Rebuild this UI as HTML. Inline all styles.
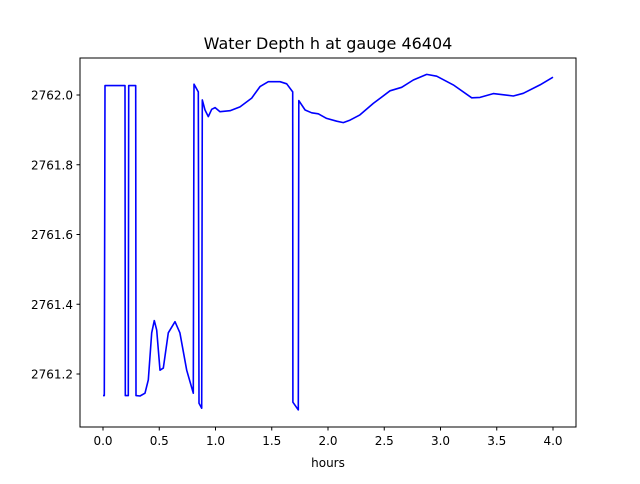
<!DOCTYPE html>
<html><head><meta charset="utf-8"><style>
body{margin:0;background:#fff;font-family:"DejaVu Sans","Liberation Sans",sans-serif;}
svg text{font-family:"DejaVu Sans","Liberation Sans",sans-serif;}
</style></head><body>
<svg id="chart" width="640" height="480" xmlns="http://www.w3.org/2000/svg">
<rect width="640" height="480" fill="#fff"/>
<text x="328" y="49" text-anchor="middle" font-size="16">Water Depth h at gauge 46404</text>
<g id="plot"></g>
<rect x="80" y="58" width="496" height="369" fill="none" stroke="#000" stroke-width="1"/>
<text x="328" y="467" text-anchor="middle" font-size="12">hours</text>
</svg>
<script>
const times=[0.0,0.012,0.018,0.196,0.198,0.225,0.228,0.291,0.293,0.329,0.373,0.403,0.433,0.456,0.477,0.507,0.536,0.580,0.640,0.684,0.744,0.803,0.809,0.847,0.853,0.877,0.883,0.907,0.936,0.966,0.996,1.040,1.129,1.218,1.322,1.396,1.469,1.573,1.633,1.686,1.688,1.736,1.740,1.796,1.855,1.914,1.988,2.077,2.136,2.196,2.284,2.403,2.551,2.655,2.758,2.877,2.966,3.114,3.277,3.351,3.469,3.647,3.736,3.884,4.0];
const depths=[2761.138,2761.138,2762.027,2762.027,2761.138,2761.138,2762.027,2762.027,2761.138,2761.137,2761.145,2761.183,2761.318,2761.353,2761.326,2761.211,2761.217,2761.318,2761.350,2761.318,2761.211,2761.145,2762.031,2762.009,2761.116,2761.102,2761.986,2761.957,2761.938,2761.959,2761.964,2761.952,2761.955,2761.966,2761.991,2762.024,2762.038,2762.038,2762.032,2762.009,2761.119,2761.097,2761.984,2761.957,2761.949,2761.946,2761.933,2761.925,2761.921,2761.928,2761.943,2761.976,2762.012,2762.022,2762.043,2762.059,2762.054,2762.029,2761.992,2761.993,2762.004,2761.997,2762.005,2762.029,2762.051];
const xTicks=[0.0,0.5,1.0,1.5,2.0,2.5,3.0,3.5,4.0];
const xTickLabels=["0.0","0.5","1.0","1.5","2.0","2.5","3.0","3.5","4.0"];
const yTicks=[2761.2,2761.4,2761.6,2761.8,2762.0];
const yTickLabels=["2761.2","2761.4","2761.6","2761.8","2762.0"];
const NS="http://www.w3.org/2000/svg";
function xScale(t){return 103+112.5*t;}
function yScale(h){return 95+(2762-h)*348.75;}
const g=document.getElementById('plot');
function mk(tag,attrs){const e=document.createElementNS(NS,tag);for(const k in attrs)e.setAttribute(k,attrs[k]);return e;}
xTicks.forEach((v,i)=>{
  const x=xScale(v);
  const l=mk('line',{x1:x,x2:x,y1:427,y2:430.5,stroke:'#000'});
  
  
  g.appendChild(l);
  const t=mk('text',{x:x,y:445,'text-anchor':'middle','font-size':'12'});
  
  
  t.textContent=xTickLabels[i];g.appendChild(t);
});
yTicks.forEach((v,i)=>{
  const y=yScale(v);
  const l=mk('line',{x1:76.5,x2:80,y1:y,y2:y,stroke:'#000'});
  
  
  g.appendChild(l);
  const t=mk('text',{x:73,y:y+4.5,'text-anchor':'end','font-size':'12'});
  
  
  t.textContent=yTickLabels[i];g.appendChild(t);
});
const pts=times.map((t,i)=>xScale(t).toFixed(1)+','+yScale(depths[i]).toFixed(1)).join(' ');
const line=mk('polyline',{points:pts,fill:'none',stroke:'#0000ff','stroke-width':'1.6','stroke-linejoin':'round'});


g.appendChild(line);
</script>
</body></html>
